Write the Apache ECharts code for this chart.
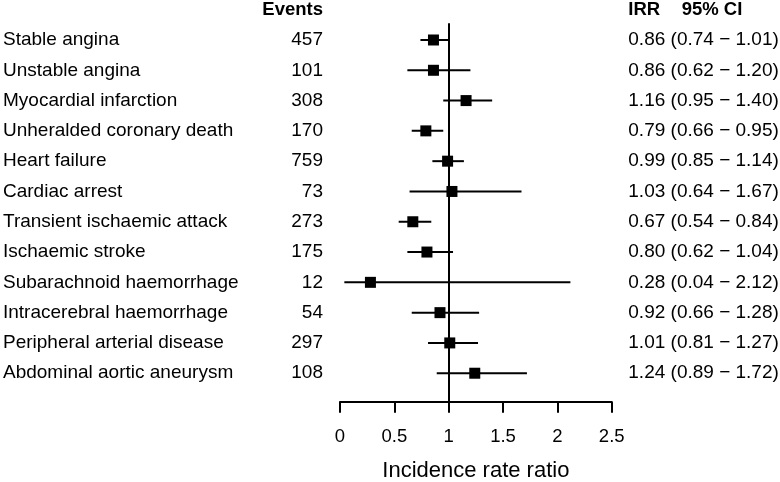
<!DOCTYPE html>
<html>
<head>
<meta charset="utf-8">
<script src="https://cdn.jsdelivr.net/npm/echarts@6/dist/echarts.min.js"></script>
<style>html,body{margin:0;padding:0;background:#fff;}#chart{width:780px;height:482px;}</style>
</head>
<body>
<div id="chart"></div>
<script>
const outcomes = ['Stable angina','Unstable angina','Myocardial infarction','Unheralded coronary death','Heart failure','Cardiac arrest','Transient ischaemic attack','Ischaemic stroke','Subarachnoid haemorrhage','Intracerebral haemorrhage','Peripheral arterial disease','Abdominal aortic aneurysm'];
const events = [457,101,308,170,759,73,273,175,12,54,297,108];
const irr  = [0.86,0.86,1.16,0.79,0.99,1.03,0.67,0.80,0.28,0.92,1.01,1.24];
const ciLow  = [0.74,0.62,0.95,0.66,0.85,0.64,0.54,0.62,0.04,0.66,0.81,0.89];
const ciHigh = [1.01,1.20,1.40,0.95,1.14,1.67,0.84,1.04,2.12,1.28,1.27,1.72];
const xTicks = [0,0.5,1,1.5,2,2.5];
const xTitle = 'Incidence rate ratio';
const headerEvents = 'Events';
const headerIRR = 'IRR';
const headerCI = '95% CI';

const FONT = '"Liberation Sans", Arial, Helvetica, sans-serif';
const rows = outcomes.map((_, i) => i + 1);
const irrText = irr.map((v, i) => v.toFixed(2) + ' (' + ciLow[i].toFixed(2) + ' \u2212 ' + ciHigh[i].toFixed(2) + ')');
const yMin = 0.449, yMax = 12.94;

function labelAxis(position, margin, align, texts) {
  return {
    type: 'value', min: yMin, max: yMax, inverse: true, position: position, offset: 0,
    axisLine: {show: false}, axisTick: {show: false}, splitLine: {show: false},
    axisLabel: {
      show: true, customValues: rows, margin: margin, align: align,
      color: '#000', fontSize: 19, fontFamily: FONT,
      formatter: v => texts[Math.round(v) - 1] ?? ''
    }
  };
}

const chart = echarts.init(document.getElementById('chart'), null, {renderer: 'canvas'});
chart.setOption({
  animation: false,
  backgroundColor: '#fff',
  grid: {left: 340, right: 168.3, top: 23.3, bottom: 80.3, containLabel: false, outerBoundsMode: 'none'},
  xAxis: {
    type: 'value', min: xTicks[0], max: xTicks[xTicks.length - 1], interval: 0.5,
    axisLine: {show: true, lineStyle: {color: '#000', width: 2}},
    axisTick: {show: true, inside: false, length: 11, lineStyle: {color: '#000', width: 2}},
    splitLine: {show: false},
    axisLabel: {color: '#000', fontSize: 18.5, fontFamily: FONT, margin: 26,
      formatter: v => String(v)},
    name: xTitle, nameLocation: 'middle', nameGap: 58,
    nameTextStyle: {color: '#000', fontSize: 22, fontFamily: FONT}
  },
  yAxis: [
    labelAxis('left', 337, 'left', outcomes),
    labelAxis('left', 17, 'right', events.map(String)),
    labelAxis('right', 16.6, 'left', irrText)
  ],
  graphic: [
    {type: 'text', x: 323, y: 10, style: {text: headerEvents, align: 'right', verticalAlign: 'middle', fill: '#000', font: 'bold 18.5px ' + FONT}},
    {type: 'text', x: 628.3, y: 10, style: {text: headerIRR, align: 'left', verticalAlign: 'middle', fill: '#000', font: 'bold 18.5px ' + FONT}},
    {type: 'text', x: 681.7, y: 10, style: {text: headerCI, align: 'left', verticalAlign: 'middle', fill: '#000', font: 'bold 18.5px ' + FONT}}
  ],
  series: [
    {
      type: 'custom', xAxisIndex: 0, yAxisIndex: 0, silent: true,
      data: rows.map((r, i) => [ciLow[i], ciHigh[i], r]),
      renderItem: function (params, api) {
        const p1 = api.coord([api.value(0), api.value(2)]);
        const p2 = api.coord([api.value(1), api.value(2)]);
        return {type: 'line', shape: {x1: p1[0], y1: p1[1], x2: p2[0], y2: p2[1]},
          style: {stroke: '#000', lineWidth: 2}};
      }
    },
    {
      type: 'scatter', xAxisIndex: 0, yAxisIndex: 0, silent: true,
      symbol: 'rect', symbolSize: 11,
      itemStyle: {color: '#000', opacity: 1},
      data: rows.map((r, i) => [irr[i], r]),
      markLine: {
        silent: true, symbol: 'none', animation: false,
        label: {show: false},
        lineStyle: {color: '#000', width: 2, type: 'solid', opacity: 1},
        data: [{xAxis: 1}]
      }
    }
  ]
});
</script>
</body>
</html>
